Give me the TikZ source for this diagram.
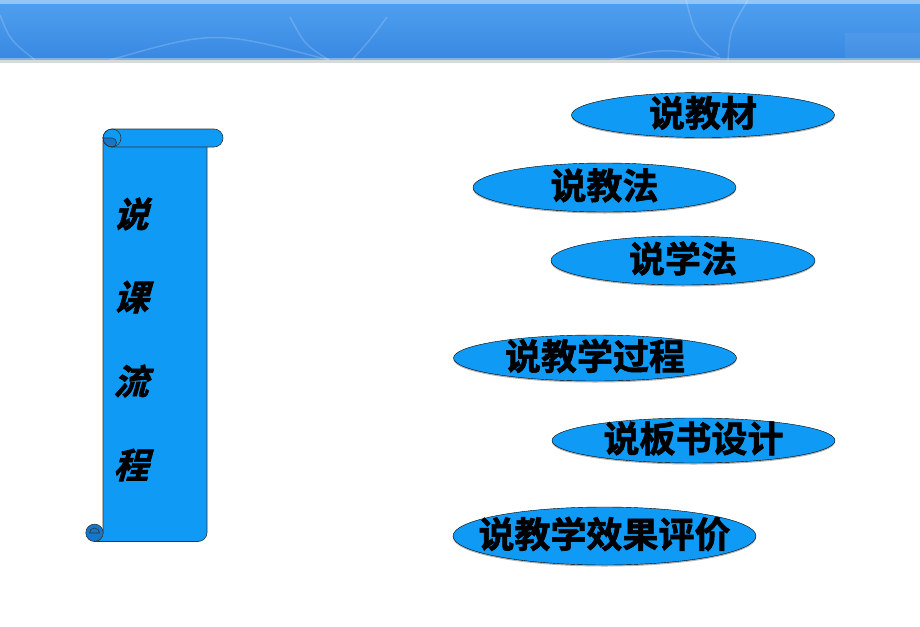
\documentclass[tikz,border=0pt]{standalone}
\usepackage{fontspec}
\usetikzlibrary{calc,shapes.geometric,shadows}
\newfontfamily\cjkbold{Noto Sans CJK SC Bold}[FakeBold=1.6]
\newfontfamily\cjkslant{Noto Sans CJK SC Bold}[FakeSlant=0.28,FakeBold=1.8]
\definecolor{skyblue}{RGB}{14,154,245}
\definecolor{curldark}{RGB}{22,118,200}
\definecolor{bantop}{RGB}{80,160,240}
\definecolor{banbot}{RGB}{56,136,226}

\tikzset{
  oval/.style={ellipse,draw=black,thin,fill=skyblue,inner sep=0pt,
    drop shadow={shadow xshift=0pt,shadow yshift=-1.5pt,opacity=.3,fill=black}},
  ovaltext/.style={font=\cjkbold\fontsize{36}{36}\selectfont,inner sep=0pt,yshift=2pt},
  scrollchar/.style={font=\cjkslant\fontsize{35}{35}\selectfont,inner sep=0pt},
  scrollline/.style={draw=black!80,line width=.6pt}
}

\begin{document}
\begin{tikzpicture}[x=1pt,y=-1pt]
\useasboundingbox (0,0) rectangle (920,626);

\shade[top color=bantop,bottom color=banbot] (0,0) rectangle (920,60);
\fill[white,opacity=.4] (0,0) rectangle (920,4);
\begin{scope}[white,opacity=.18,line width=1.5pt]
\draw (0,15) .. controls (10,40) .. (35,60);
\draw (110,60) .. controls (215,30) .. (329,60);
\draw (290,17) .. controls (305,45) .. (329,60);
\draw (387,17) .. controls (370,40) .. (352,60);
\draw (686,0) .. controls (695,35) .. (719,55);
\draw (748,0) .. controls (730,30) .. (728,60);
\draw (610,60) .. controls (665,48) .. (720,58);
\end{scope}
\fill[white,opacity=.06] (845,33) rectangle (920,58);
\fill[white,opacity=.35] (0,58) rectangle (920,60);
\fill[black!15] (0,60) rectangle (920,63);

\filldraw[scrollline,fill=skyblue] (103,140) -- (103,532.5) -- (94.5,532.5) -- (94.5,541.5)
  -- (198,541.5) arc[start angle=90,end angle=0,radius=9] -- (207,140);
\filldraw[scrollline,fill=skyblue,rounded corners=9pt] (103,129) rectangle (223,147);
\filldraw[scrollline,fill=curldark] (103,138) arc[start angle=180,end angle=90,radius=9]
  arc[start angle=90,end angle=-90,radius=4.5] -- cycle;
\draw[scrollline] (112,138) circle[radius=9];
\filldraw[scrollline,fill=curldark] (94.5,532.8) circle[radius=8.7];
\draw[scrollline] (89.5,533) -- (99.5,533) arc[start angle=0,end angle=-180,radius=5];

\foreach \ch/\y in {说/214,课/297,流/381,程/465}
  \draw node[scrollchar] (side\y) at (131,\y) {\ch};

\draw node[oval,minimum width=263,minimum height=45,label={[ovaltext]center:说教材}] (jiaocai) at (703,115) {};
\draw node[oval,minimum width=263,minimum height=49,label={[ovaltext]center:说教法}] (jiaofa) at (604.5,187.5) {};
\draw node[oval,minimum width=264,minimum height=49,label={[ovaltext]center:说学法}] (xuefa) at (683,260.5) {};
\draw node[oval,minimum width=283,minimum height=46,label={[ovaltext]center:说教学过程}] (guocheng) at (595,358) {};
\draw node[oval,minimum width=283,minimum height=45,label={[ovaltext]center:说板书设计}] (banshu) at (693.5,440.5) {};
\draw node[oval,minimum width=303,minimum height=58,label={[ovaltext]center:说教学效果评价}] (pingjia) at (604.5,536) {};

\end{tikzpicture}
\end{document}
